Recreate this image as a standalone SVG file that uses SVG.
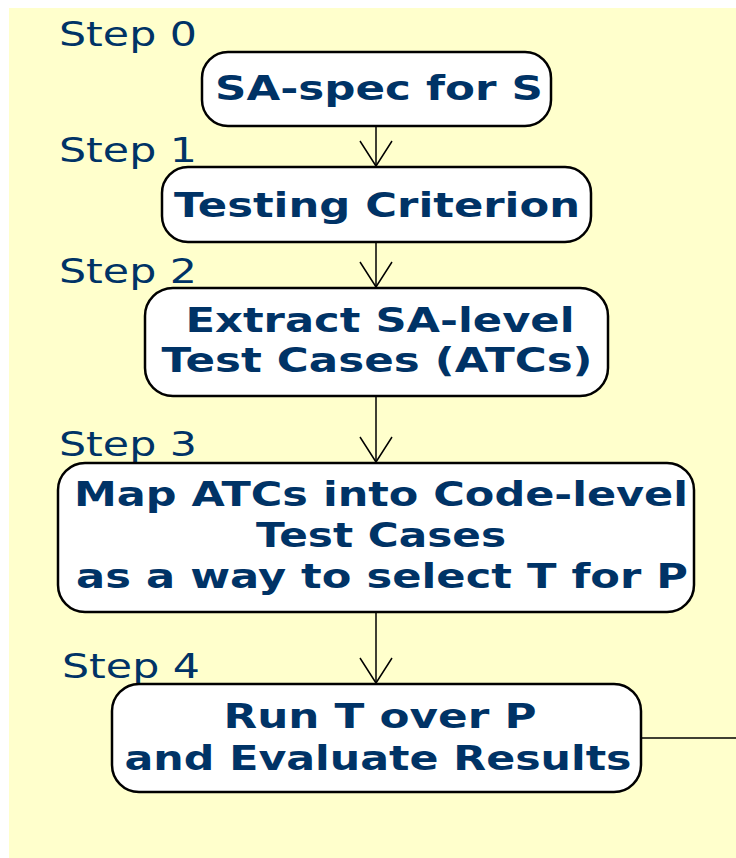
<svg xmlns="http://www.w3.org/2000/svg" width="736" height="858" viewBox="0 0 736 858">
<style>
.bg{fill:#FFFFCC}
.box{fill:#FFFFFF;stroke:#000000;stroke-width:2.5}
.nt{font-family:"DejaVu Sans","Liberation Sans",sans-serif;font-weight:bold;font-size:34px;fill:#003366;text-anchor:middle}
.st{font-family:"DejaVu Sans","Liberation Sans",sans-serif;font-size:34px;fill:#003366}
.edge{stroke:#000000;stroke-width:1.5;fill:none}
</style>
<defs>
<marker id="v" markerUnits="userSpaceOnUse" markerWidth="40" markerHeight="40" refX="0" refY="0" orient="auto" overflow="visible">
<path d="M-25,-16 L0,0 L-25,16" fill="none" stroke="#000000" stroke-width="1.5"/>
</marker>
</defs>
<rect class="bg" x="9" y="8" width="727" height="850"/>
<g id="labels">
<text class="st" x="59" y="46" textLength="138" lengthAdjust="spacingAndGlyphs">Step 0</text>
<text class="st" x="59" y="162" textLength="138" lengthAdjust="spacingAndGlyphs">Step 1</text>
<text class="st" x="59" y="283" textLength="138" lengthAdjust="spacingAndGlyphs">Step 2</text>
<text class="st" x="59" y="456" textLength="138" lengthAdjust="spacingAndGlyphs">Step 3</text>
<text class="st" x="62" y="678" textLength="138" lengthAdjust="spacingAndGlyphs">Step 4</text>
</g>
<g id="connectors">
<line class="edge" x1="376" y1="126" x2="376" y2="166" marker-end="url(#v)"/>
<line class="edge" x1="376" y1="242" x2="376" y2="287" marker-end="url(#v)"/>
<line class="edge" x1="376" y1="396" x2="376" y2="462" marker-end="url(#v)"/>
<line class="edge" x1="376" y1="612" x2="376" y2="683" marker-end="url(#v)"/>
<line class="edge" x1="641" y1="738" x2="736" y2="738"/>
</g>
<g id="n0">
<rect class="box" x="202" y="52" width="349" height="74" rx="26"/>
<text class="nt" x="379" y="100" textLength="328" lengthAdjust="spacingAndGlyphs">SA-spec for S</text>
</g>
<g id="n1">
<rect class="box" x="162" y="167" width="429" height="75" rx="26"/>
<text class="nt" x="377" y="217" textLength="406" lengthAdjust="spacingAndGlyphs">Testing Criterion</text>
</g>
<g id="n2">
<rect class="box" x="145" y="288" width="463" height="108" rx="28"/>
<text class="nt" x="380" y="332" textLength="389" lengthAdjust="spacingAndGlyphs">Extract SA-level</text>
<text class="nt" x="377" y="372" textLength="431" lengthAdjust="spacingAndGlyphs">Test Cases (ATCs)</text>
</g>
<g id="n3">
<rect class="box" x="58" y="463" width="636" height="149" rx="27"/>
<text class="nt" x="381" y="506" textLength="614" lengthAdjust="spacingAndGlyphs">Map ATCs into Code-level</text>
<text class="nt" x="381" y="547" textLength="250" lengthAdjust="spacingAndGlyphs">Test Cases</text>
<text class="nt" x="382" y="588" textLength="612" lengthAdjust="spacingAndGlyphs">as a way to select T for P</text>
</g>
<g id="n4">
<rect class="box" x="112" y="684" width="529" height="108" rx="27"/>
<text class="nt" x="380" y="728" textLength="313" lengthAdjust="spacingAndGlyphs">Run T over P</text>
<text class="nt" x="378" y="770" textLength="507" lengthAdjust="spacingAndGlyphs">and Evaluate Results</text>
</g>
</svg>
